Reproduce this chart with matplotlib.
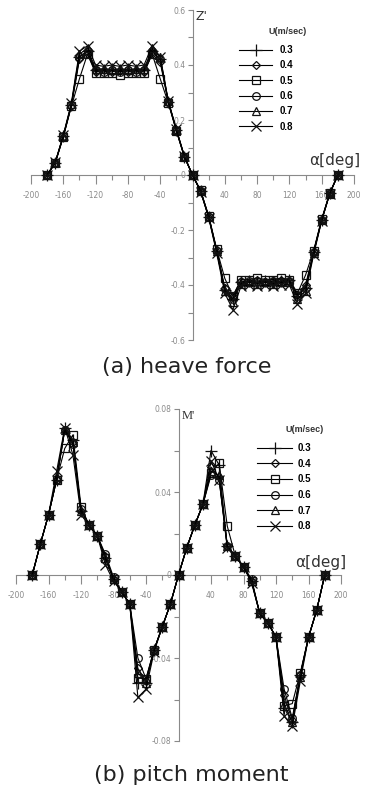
import matplotlib.pyplot as plt
from matplotlib.ticker import FixedLocator, MultipleLocator

# angle of attack [deg]
alpha = [-180, -170, -160, -150, -140, -130, -120, -110, -100, -90, -80, -70, -60,
         -50, -40, -30, -20, -10, 0, 10, 20, 30, 40, 50, 60, 70, 80, 90, 100,
         110, 120, 130, 140, 150, 160, 170, 180]

speeds = ['0.3', '0.4', '0.5', '0.6', '0.7', '0.8']

# heave force Z'
heave_03 = [0.0, 0.045, 0.142, 0.255, 0.43, 0.45, 0.38, 0.38, 0.385, 0.38, 0.385, 0.38, 0.38,
            0.45, 0.42, 0.267, 0.164, 0.067, 0.0, -0.058, -0.152, -0.276, -0.418, -0.45, -0.39,
            -0.385, -0.39, -0.385, -0.39, -0.385, -0.38, -0.44, -0.41, -0.281, -0.164, -0.067, 0.0]
heave_04 = [0.0, 0.044, 0.140, 0.252, 0.42, 0.44, 0.375, 0.38, 0.375, 0.38, 0.375, 0.38, 0.375,
            0.44, 0.41, 0.265, 0.162, 0.066, 0.0, -0.057, -0.150, -0.273, -0.41, -0.44, -0.385,
            -0.39, -0.38, -0.39, -0.385, -0.38, -0.385, -0.435, -0.40, -0.279, -0.162, -0.066, 0.0]
heave_05 = [0.0, 0.043, 0.138, 0.250, 0.35, 0.44, 0.37, 0.37, 0.37, 0.365, 0.37, 0.37, 0.37,
            0.44, 0.35, 0.262, 0.160, 0.065, 0.0, -0.056, -0.148, -0.270, -0.376, -0.44, -0.38,
            -0.38, -0.375, -0.38, -0.38, -0.375, -0.38, -0.43, -0.364, -0.275, -0.160, -0.065, 0.0]
heave_06 = [0.0, 0.045, 0.141, 0.254, 0.43, 0.45, 0.38, 0.375, 0.38, 0.375, 0.38, 0.375, 0.38,
            0.45, 0.42, 0.266, 0.163, 0.066, 0.0, -0.058, -0.151, -0.275, -0.415, -0.45, -0.39,
            -0.385, -0.385, -0.39, -0.385, -0.39, -0.385, -0.44, -0.41, -0.280, -0.163, -0.066, 0.0]
heave_07 = [0.0, 0.046, 0.143, 0.257, 0.44, 0.46, 0.385, 0.385, 0.38, 0.385, 0.38, 0.385, 0.385,
            0.46, 0.43, 0.268, 0.165, 0.068, 0.0, -0.059, -0.153, -0.278, -0.42, -0.46, -0.395,
            -0.39, -0.395, -0.39, -0.395, -0.39, -0.39, -0.45, -0.42, -0.283, -0.165, -0.068, 0.0]
heave_08 = [0.0, 0.046, 0.145, 0.262, 0.45, 0.47, 0.40, 0.395, 0.40, 0.395, 0.40, 0.395, 0.40,
            0.47, 0.43, 0.270, 0.166, 0.068, 0.0, -0.060, -0.155, -0.285, -0.43, -0.49, -0.405,
            -0.40, -0.405, -0.40, -0.405, -0.40, -0.40, -0.47, -0.43, -0.290, -0.166, -0.068, 0.0]

# pitch moment M'
pitch_03 = [0.0, 0.015, 0.029, 0.046, 0.071, 0.065, 0.031, 0.024, 0.019, 0.008, -0.002, -0.008, -0.014,
            -0.052, -0.052, -0.036, -0.025, -0.014, 0.0, 0.013, 0.024, 0.034, 0.060, 0.053, 0.014,
            0.009, 0.004, -0.003, -0.0185, -0.023, -0.030, -0.064, -0.071, -0.048, -0.030, -0.017, 0.0]
pitch_04 = [0.0, 0.015, 0.029, 0.046, 0.070, 0.064, 0.031, 0.024, 0.019, 0.009, -0.002, -0.008, -0.014,
            -0.045, -0.051, -0.036, -0.025, -0.014, 0.0, 0.013, 0.024, 0.034, 0.052, 0.047, 0.014,
            0.009, 0.004, -0.003, -0.0185, -0.023, -0.030, -0.058, -0.070, -0.048, -0.030, -0.017, 0.0]
pitch_05 = [0.0, 0.015, 0.029, 0.046, 0.061, 0.0675, 0.033, 0.024, 0.019, 0.008, -0.002, -0.008, -0.014,
            -0.0497, -0.050, -0.036, -0.025, -0.014, 0.0, 0.013, 0.024, 0.034, 0.049, 0.054, 0.0236,
            0.009, 0.004, -0.003, -0.0185, -0.023, -0.030, -0.063, -0.062, -0.047, -0.030, -0.017, 0.0]
pitch_06 = [0.0, 0.015, 0.029, 0.046, 0.070, 0.063, 0.032, 0.024, 0.019, 0.010, -0.001, -0.008, -0.014,
            -0.040, -0.050, -0.036, -0.025, -0.014, 0.0, 0.013, 0.024, 0.034, 0.048, 0.046, 0.014,
            0.009, 0.004, -0.002, -0.0185, -0.023, -0.030, -0.055, -0.069, -0.048, -0.030, -0.017, 0.0]
pitch_07 = [0.0, 0.015, 0.029, 0.047, 0.070, 0.064, 0.031, 0.024, 0.019, 0.008, -0.002, -0.008, -0.014,
            -0.047, -0.052, -0.036, -0.025, -0.014, 0.0, 0.013, 0.024, 0.034, 0.050, 0.048, 0.014,
            0.009, 0.004, -0.003, -0.0185, -0.023, -0.030, -0.062, -0.071, -0.049, -0.030, -0.017, 0.0]
pitch_08 = [0.0, 0.015, 0.029, 0.050, 0.071, 0.058, 0.029, 0.024, 0.019, 0.005, -0.003, -0.008, -0.014,
            -0.059, -0.055, -0.037, -0.025, -0.014, 0.0, 0.013, 0.024, 0.034, 0.055, 0.046, 0.013,
            0.009, 0.004, -0.004, -0.0185, -0.023, -0.030, -0.068, -0.073, -0.051, -0.030, -0.017, 0.0]

heave = [heave_03, heave_04, heave_05, heave_06, heave_07, heave_08]
pitch = [pitch_03, pitch_04, pitch_05, pitch_06, pitch_07, pitch_08]

markers = ['+', 'D', 's', 'o', '^', 'x']
msizes = [8, 4.5, 5.5, 5.5, 5.5, 7]
grey = '#8a8a8a'


def setup_axes(ax, ylim, ymajor, ylabels, yminor):
    ax.set_xlim(-200, 200)
    ax.set_ylim(*ylim)
    for s in ['top', 'right']:
        ax.spines[s].set_visible(False)
    ax.spines['left'].set_position(('data', 0))
    ax.spines['bottom'].set_position(('data', 0))
    for s in ['left', 'bottom']:
        ax.spines[s].set_color(grey)
        ax.spines[s].set_linewidth(0.8)
    xt = [-200, -160, -120, -80, -40, 40, 80, 120, 160, 200]
    ax.xaxis.set_major_locator(FixedLocator(xt))
    ax.set_xticklabels([str(v) for v in xt])
    ax.xaxis.set_minor_locator(MultipleLocator(20))
    ax.yaxis.set_major_locator(FixedLocator(ymajor))
    ax.set_yticklabels(ylabels)
    ax.yaxis.set_minor_locator(MultipleLocator(yminor))
    ax.tick_params(axis='x', which='major', direction='out', length=6.5, width=0.8,
                   color=grey, labelcolor=grey, labelsize=5.5, pad=5)
    ax.tick_params(axis='x', which='minor', direction='out', length=3.5, width=0.8, color=grey)
    ax.tick_params(axis='y', which='both', direction='out', length=3.5, width=0.8,
                   color=grey, labelcolor=grey, labelsize=5.5, pad=1.5)
    ax.set_axisbelow(True)
    ax.patch.set_visible(False)


def draw_series(ax, data):
    handles = []
    for vals, m, ms, lab in zip(data, markers, msizes, speeds):
        h, = ax.plot(alpha, vals, color='black', linewidth=0.8, marker=m, markersize=ms,
                     markerfacecolor='none', markeredgecolor='#111111', markeredgewidth=0.9,
                     label=lab, zorder=3, clip_on=False)
        handles.append(h)
    return handles


fig = plt.figure(figsize=(3.68, 7.87), dpi=100)
W, H = 368.0, 787.0

# (a) heave force
ax1 = fig.add_axes([31 / W, 1 - 340 / H, 323 / W, 330 / H])
setup_axes(ax1, (-0.6, 0.6), [-0.6, -0.4, -0.2, 0, 0.2, 0.4, 0.6],
           ['-0.6', '-0.4', '-0.2', '0', '0.2', '0.4', '0.6'], 0.1)
h1 = draw_series(ax1, heave)
ax1.legend(handles=h1, loc='upper left', bbox_to_anchor=(239 / W, 1 - 45 / H),
           bbox_transform=fig.transFigure, frameon=False, borderpad=0,
           borderaxespad=0, handlelength=3.4, handletextpad=0.8, labelspacing=0.55,
           prop={'family': 'Liberation Sans', 'weight': 'bold', 'size': 7})
fig.text(288 / W, 1 - 32 / H, 'U(m/sec)', ha='center', va='center', fontsize=6.5,
         family='Liberation Sans', weight='bold', color='#333333')
fig.text(196 / W, 1 - 16 / H, "Z'", ha='left', va='center', fontsize=9, color='#333333')
fig.text(335 / W, 1 - 160 / H, 'α[deg]', ha='center', va='center', fontsize=11, color='#333333')
fig.text(187 / W, 1 - 367 / H, '(a) heave force', ha='center', va='center', fontsize=16,
         color='#222222')

# (b) pitch moment
ax2 = fig.add_axes([16 / W, 1 - 741 / H, 325 / W, 332 / H])
setup_axes(ax2, (-0.08, 0.08), [-0.08, -0.04, 0, 0.04, 0.08],
           ['-0.08', '-0.04', '0', '0.04', '0.08'], 0.02)
h2 = draw_series(ax2, pitch)
ax2.legend(handles=h2, loc='upper left', bbox_to_anchor=(257 / W, 1 - 443 / H),
           bbox_transform=fig.transFigure, frameon=False, borderpad=0,
           borderaxespad=0, handlelength=3.6, handletextpad=0.6, labelspacing=0.58,
           prop={'family': 'Liberation Sans', 'weight': 'bold', 'size': 7})
fig.text(305 / W, 1 - 430 / H, 'U(m/sec)', ha='center', va='center', fontsize=6.5,
         family='Liberation Sans', weight='bold', color='#333333')
fig.text(182 / W, 1 - 416 / H, "M'", ha='left', va='center', fontsize=9,
         family='Liberation Serif', color='#333333')
fig.text(321 / W, 1 - 562 / H, 'α[deg]', ha='center', va='center', fontsize=11, color='#333333')
fig.text(191 / W, 1 - 775 / H, '(b) pitch moment', ha='center', va='center', fontsize=16,
         color='#222222')

fig.savefig('out.png', dpi=100)
